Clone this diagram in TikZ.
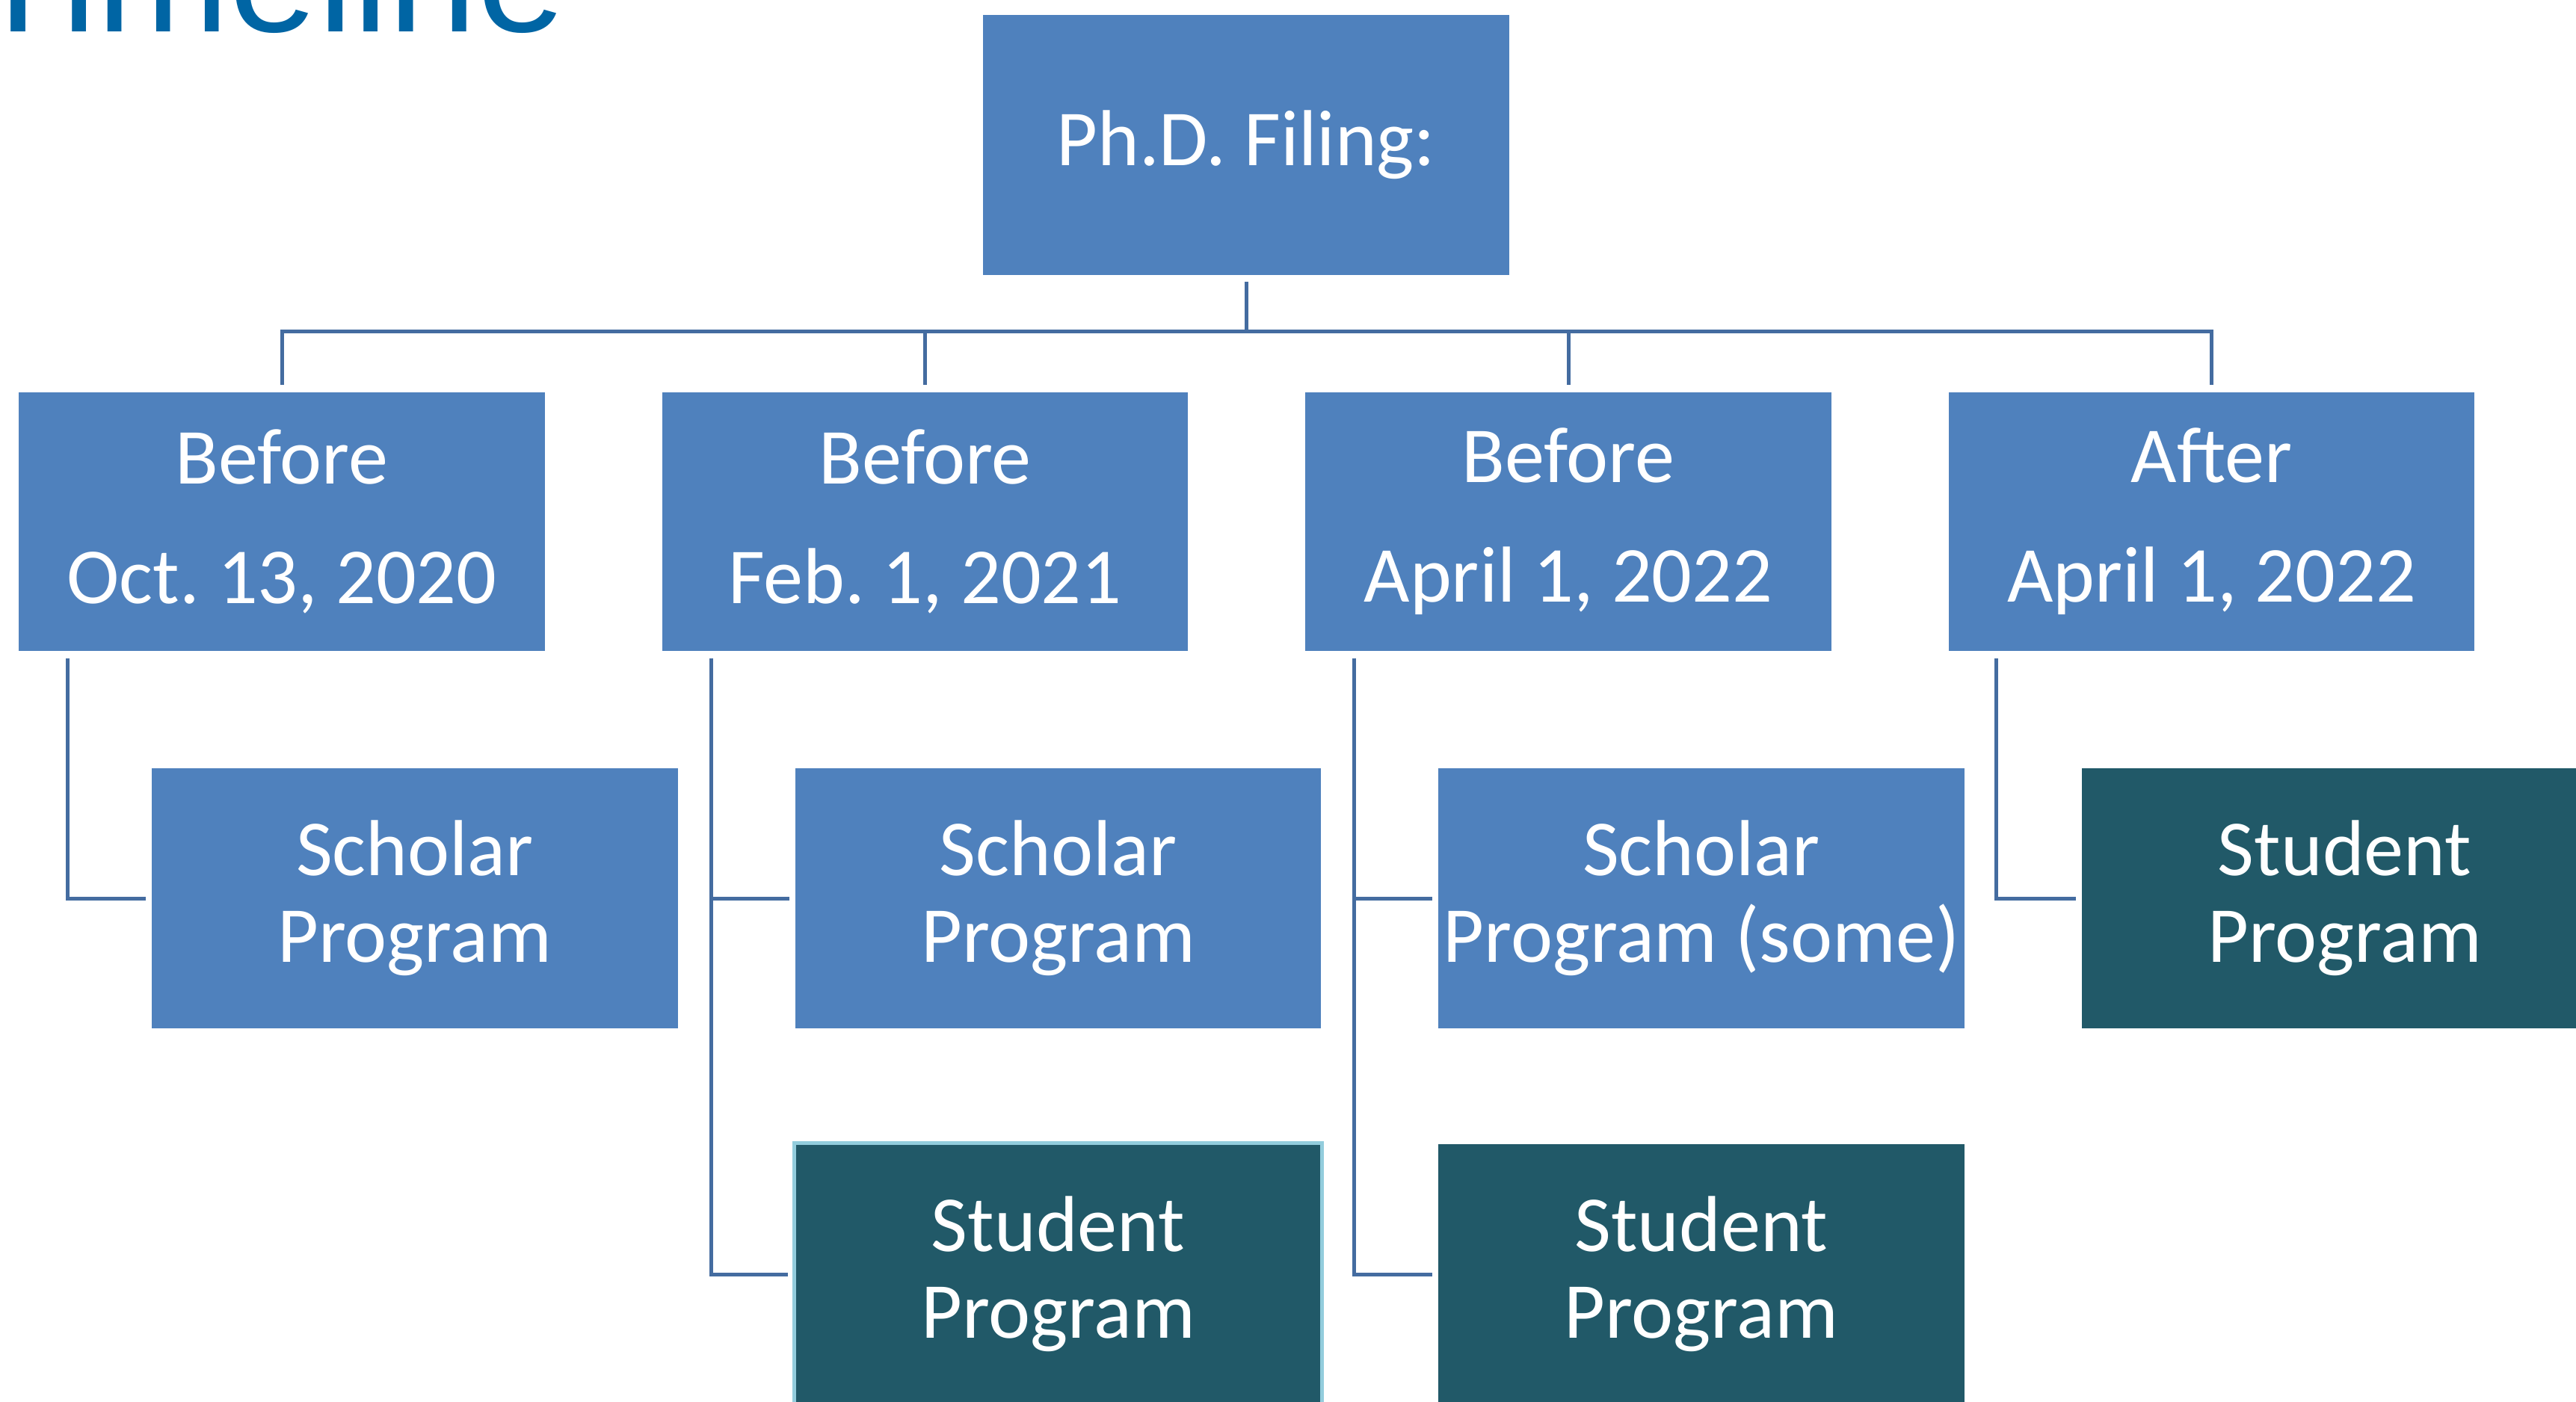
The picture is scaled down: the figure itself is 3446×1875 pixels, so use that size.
\documentclass[tikz,border=0pt]{standalone}
\usepackage{fontspec}
\setmainfont{Carlito}
\newfontfamily\titlefont{Liberation Sans}
\frenchspacing
\definecolor{boxblue}{RGB}{79,129,189}
\definecolor{studteal}{RGB}{33,89,104}
\definecolor{linecol}{RGB}{68,108,160}
\definecolor{titleblue}{RGB}{0,101,164}
\definecolor{lightedge}{RGB}{147,205,221}
\tikzset{
  box/.style={rectangle, fill=boxblue, draw=white, line width=0.03cm,
    minimum width=7.06cm, minimum height=3.48cm, inner sep=0pt,
    text=white, align=center, font=\fontsize{30.2}{33}\selectfont\frenchspacing},
  lvlbox/.style={box, font=\fontsize{30.2}{45.5}\selectfont\frenchspacing},
  studbox/.style={box, fill=studteal},
  conn/.style={draw=linecol, line width=0.05cm},
}
\begin{document}
\begin{tikzpicture}[x=0.01cm,y=-0.01cm]
\useasboundingbox (0,0) rectangle (3446,1875);
\begin{scope}
\clip (0,0) rectangle (3446,1875);
% title (cut off at top)
\node[anchor=base west, inner sep=0pt, text=titleblue,
      font=\titlefont\fontsize{60.6}{70}\selectfont] (title) at (-41,42) {Timeline};

% top node
\node[box, minimum height=3.5cm] (top) at (1667,194) {Ph.D. Filing:};

% level 2
\node[lvlbox] (b1) at (377,698)   {Before\\Oct. 13, 2020};
\node[lvlbox] (b2) at (1237.5,698){Before\\Feb. 1, 2021};
\node[lvlbox] (b3) at (2098,698)  {Before\\April 1, 2022};
\node[lvlbox] (b4) at (2958.5,698){After\\April 1, 2022};

% level 3, row 1
\node[box, minimum height=3.5cm] (c1) at (555,1202)    {Scholar\\Program};
\node[box, minimum height=3.5cm] (c2) at (1415.5,1202) {Scholar\\Program};
\node[box, minimum height=3.5cm] (c3) at (2276,1202)   {Scholar\\Program (some)};
\node[studbox, minimum height=3.5cm] (c4) at (3136.5,1202) {Student\\Program};

% level 3, row 2
\node[studbox, minimum height=3.5cm, draw=lightedge, line width=0.05cm] (d2) at (1415.5,1705) {Student\\Program};
\node[studbox, minimum height=3.5cm] (d3) at (2276,1705) {Student\\Program};

% connectors
\coordinate (bus) at (1667,443);
\draw[conn, shorten <=0.06cm] (top.south) -- (bus);
\draw[conn, shorten >=0.07cm] (bus) -| (b1.north);
\draw[conn, shorten >=0.07cm] (bus) -| (b2.north);
\draw[conn, shorten >=0.07cm] (bus) -| (b3.north);
\draw[conn, shorten >=0.07cm] (bus) -| (b4.north);

\draw[conn, shorten <=0.07cm, shorten >=0.05cm] ([xshift=0.68cm]b1.south west) |- (c1.west);
\draw[conn, shorten <=0.07cm, shorten >=0.05cm] ([xshift=0.69cm]b2.south west) |- (c2.west);
\draw[conn, shorten <=0.07cm, shorten >=0.06cm] ([xshift=0.69cm]b2.south west) |- (d2.west);
\draw[conn, shorten <=0.07cm, shorten >=0.05cm] ([xshift=0.68cm]b3.south west) |- (c3.west);
\draw[conn, shorten <=0.07cm, shorten >=0.05cm] ([xshift=0.68cm]b3.south west) |- (d3.west);
\draw[conn, shorten <=0.07cm, shorten >=0.05cm] ([xshift=0.67cm]b4.south west) |- (c4.west);
\end{scope}
\end{tikzpicture}
\end{document}
